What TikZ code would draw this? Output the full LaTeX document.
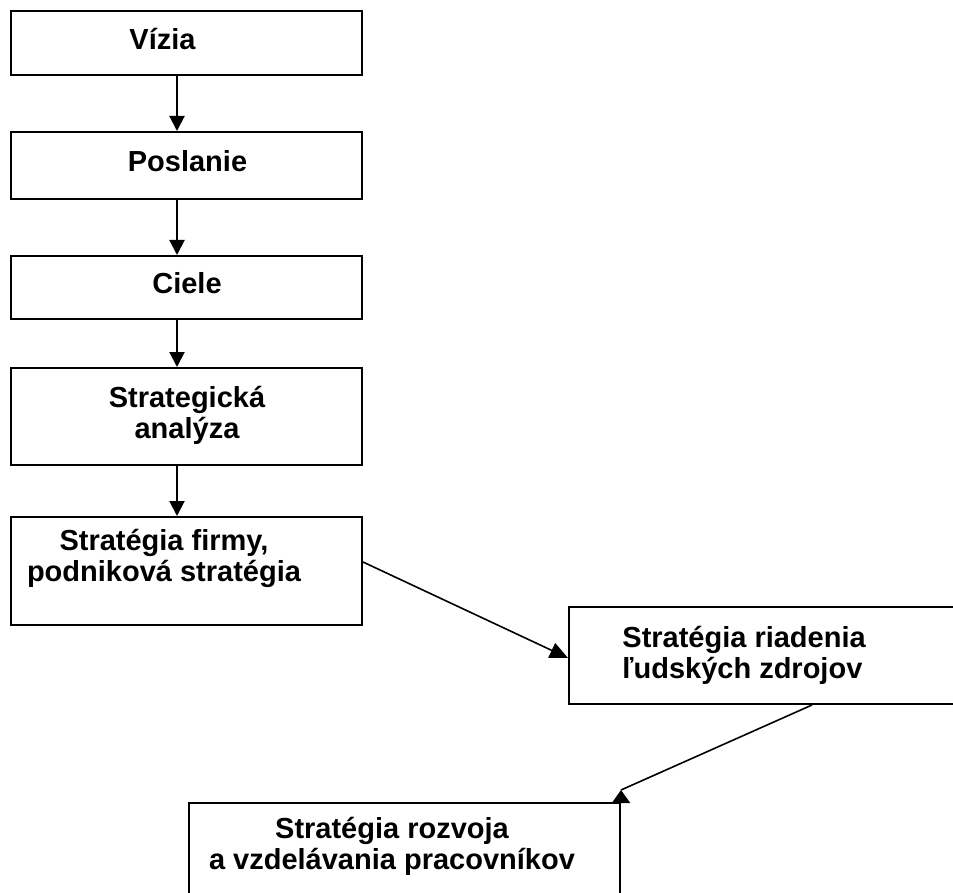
\documentclass[tikz,border=0pt]{standalone}
\usepackage{fontspec}
\setmainfont{Liberation Sans}
\usetikzlibrary{positioning,arrows.meta}

\begin{document}
\begin{tikzpicture}[x=0.5pt,y=-0.5pt]
		\tikzset{stage/.style={draw, line width=1pt, inner sep=0pt},
			caption/.style={inner sep=0pt, font=\bfseries\fontsize{14.5}{15.5}\selectfont},
			flow/.style={line width=1pt, -{Triangle[length=7.5pt,width=7.5pt]}},
			slant/.style={line width=0.8pt}}
		\useasboundingbox (0,0) rectangle (953,893);
		\clip (0,0) rectangle (953,893);
		% the boxes
		\node [stage, minimum width=175.5pt, minimum height=32pt] (vizia) at (186.5,43) {};
		\node [stage, minimum width=175.5pt, minimum height=33.5pt] (poslanie) at (186.5,165.5) {};
		\node [stage, minimum width=175.5pt, minimum height=31.5pt] (ciele) at (186.5,287.5) {};
		\node [stage, minimum width=175.5pt, minimum height=48.5pt] (analyza) at (186.5,416.5) {};
		\node [stage, minimum width=175.5pt, minimum height=54pt] (firma) at (186.5,571) {};
		\node [stage, minimum width=220pt, minimum height=48.5pt] (riadenie) at (789,655.5) {};
		\node [stage, minimum width=215.5pt, minimum height=55pt] (rozvoj) at (404.5,858) {};
		% the texts (base = last line)
		\node [caption, anchor=base] (tvizia) at (162.5,50) {Vízia};
		\node [caption, anchor=base] (tposlanie) at (187.5,172) {Poslanie};
		\node [caption, anchor=base] (tciele) at (187,293) {Ciele};
		\node [caption, anchor=base, align=center] (tanalyza) at (187,438) {Strategická\\analýza};
		\node [caption, anchor=base, align=center] (tfirma) at (164,581) {Stratégia firmy,\\podniková stratégia};
		\node [caption, anchor=base west, align=left] (triadenie) at (622,678) {Stratégia riadenia\\ľudských zdrojov};
		\node [caption, anchor=base, align=center] (trozvoj) at (392,869) {Stratégia rozvoja\\a vzdelávania pracovníkov};
		% the arrows
		\draw [flow] ([xshift=-4.75pt]vizia.south) -- ([xshift=-4.75pt]poslanie.north);
		\draw [flow] ([xshift=-4.75pt]poslanie.south) -- ([xshift=-4.75pt]ciele.north);
		\draw [flow] ([xshift=-4.75pt]ciele.south) -- ([xshift=-4.75pt]analyza.north);
		\draw [flow] ([xshift=-4.75pt]analyza.south) -- ([xshift=-4.75pt]firma.north);
		\draw [slant, -{Triangle[length=9pt,width=8pt]}] ([yshift=4.5pt]firma.east) -- ([yshift=-1.25pt]riadenie.west);
		\coordinate (hrot) at ([yshift=6pt]rozvoj.north east);
		\draw [slant] ([xshift=122pt]riadenie.south west) -- (hrot);
		\draw [line width=1pt, -{Triangle[length=6.5pt,width=9pt]}] (rozvoj.north east) -- (hrot);
\end{tikzpicture}
\end{document}
